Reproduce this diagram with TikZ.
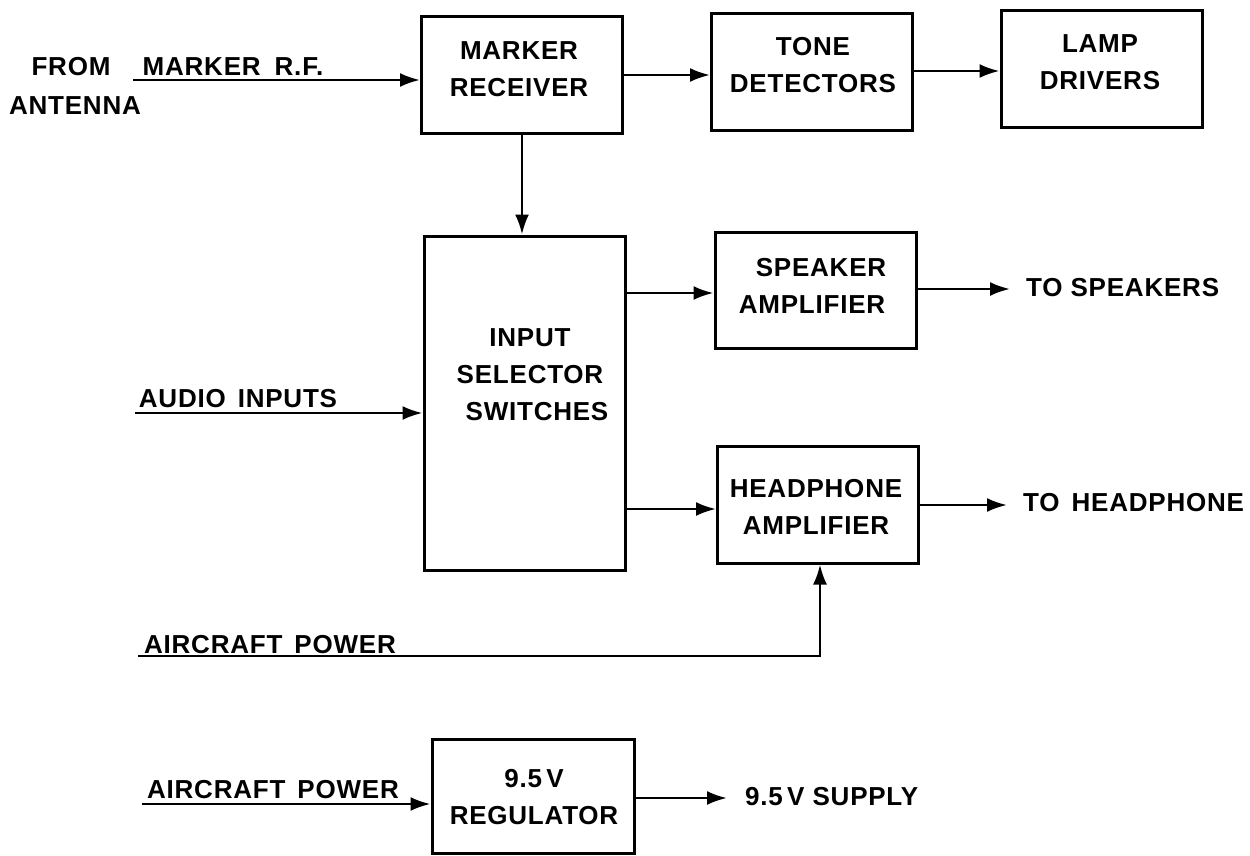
\documentclass[tikz,border=0pt]{standalone}
\usepackage{fontspec}
\setmainfont{Liberation Sans}[LetterSpace=3]
\usetikzlibrary{arrows.meta}
\begin{document}
\begin{tikzpicture}[x=1pt,y=-1pt,
  blk/.style={draw, line width=3pt, inner sep=0pt, minimum width=201pt, minimum height=117pt},
  lbl/.style={font=\fontsize{26}{37}\selectfont\bfseries, align=center, inner sep=0pt},
  con/.style={line width=2.6pt, -{Latex[length=20pt,width=14pt]}}]
\useasboundingbox (0,0) rectangle (1250,856);
% boxes
\node[blk] (mr)  at (522,75.5) {};
\node[blk] (td)  at (812,72.5) {};
\node[blk] (ld)  at (1101.5,69.5) {};
\node[blk, minimum height=334pt] (iss) at (524.5,403) {};
\node[blk, minimum height=116pt] (sa)  at (815.5,290) {};
\node[blk] (ha)  at (818,504.5) {};
\node[blk, minimum width=202pt, minimum height=114pt] (reg) at (533,796) {};
% box texts
\node[lbl] (tmr)  at (519,69) {MARKER\\RECEIVER};
\node[lbl] (ttd)  at (813,65.5) {TONE\\DETECTORS};
\node[lbl] (tld)  at (1100,62) {LAMP\\DRIVERS};
\node[lbl] (tiss) at (530,375) {INPUT\\SELECTOR\\\hspace*{14pt}SWITCHES};
\node[lbl] (tsa)  at (812,285.5) {\hspace*{18pt}SPEAKER\\AMPLIFIER};
\node[lbl] (tha)  at (816,506.5) {HEADPHONE\\AMPLIFIER};
\node[lbl] (treg) at (534,797.5) {9.5\,V\\REGULATOR};
% outer labels
\node[lbl] (from) at (71,67) {FROM};
\node[lbl] (mrf)  at (233,67) {MARKER\hspace{6pt} R.F.};
\node[lbl] (ant)  at (75,106) {ANTENNA};
\node[lbl] (aud)  at (238,399) {AUDIO\hspace{4pt} INPUTS};
\node[lbl] (acp1) at (270,645) {AIRCRAFT\hspace{4pt} POWER};
\node[lbl] (acp2) at (273,790) {AIRCRAFT\hspace{4pt} POWER};
\node[lbl, anchor=west] (tspk) at (1026,288) {TO SPEAKERS};
\node[lbl, anchor=west] (thp)  at (1023,503) {TO\hspace{4pt} HEADPHONE};
\node[lbl, anchor=west] (tsup) at (745,797) {9.5\,V SUPPLY};
% free ends
\coordinate (cant) at (133,80);
\coordinate (caud) at (135,413);
\coordinate (cpw)  at (138,656);
\coordinate (creg) at (142,804);
\coordinate (cspk) at (1010,289);
\coordinate (chp)  at (1007,505);
\coordinate (csup) at (727,798);
% connectors
\draw[con] (cant) -- (cant -| mr.west);
\draw[con] (mr.east |- 0,75) -- (td.west |- 0,75);
\draw[con] (td.east |- 0,71) -- (ld.west |- 0,71);
\draw[con] (mr.south -| 522,0) -- (iss.north -| 522,0);
\draw[con] (iss.east |- 0,293) -- (sa.west |- 0,293);
\draw[con] (iss.east |- 0,509) -- (ha.west |- 0,509);
\draw[con] (sa.east |- cspk) -- (cspk);
\draw[con] (ha.east |- chp) -- (chp);
\draw[con] (caud) -- (caud -| iss.west);
\draw[con] (cpw) -| (ha.south -| 820,0);
\draw[con] (creg) -- (creg -| reg.west);
\draw[con] (reg.east |- csup) -- (csup);
\end{tikzpicture}
\end{document}
